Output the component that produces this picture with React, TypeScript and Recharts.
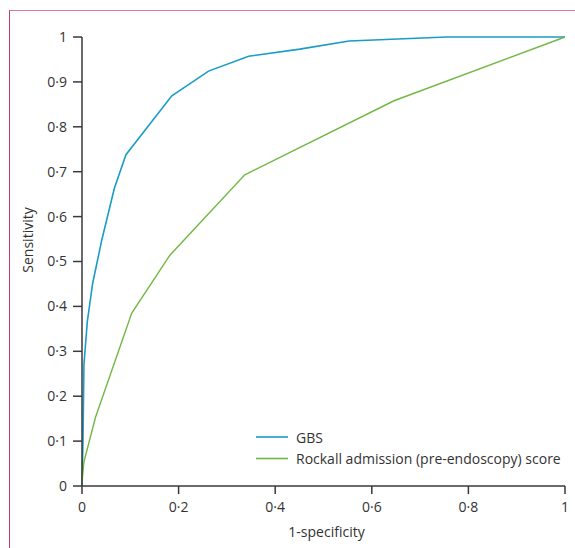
import React from 'react'
import {
  LineChart,
  Line,
  XAxis,
  YAxis,
  Legend,
} from 'recharts'

// ROC curves: [1-specificity, sensitivity]
const gbsFpr = [0, 0.002, 0.004, 0.011, 0.022, 0.041, 0.067, 0.091, 0.186, 0.262, 0.345, 0.451, 0.553, 0.755, 1]
const gbsTpr = [0, 0.1, 0.27, 0.366, 0.451, 0.548, 0.663, 0.738, 0.869, 0.924, 0.957, 0.973, 0.991, 1, 1]

const rockallFpr = [0, 0.001, 0.004, 0.028, 0.103, 0.182, 0.337, 0.646, 1]
const rockallTpr = [0, 0.02, 0.054, 0.153, 0.385, 0.514, 0.693, 0.858, 1]

const xTicks = [0, 0.2, 0.4, 0.6, 0.8, 1]
const yTicks = [0, 0.1, 0.2, 0.3, 0.4, 0.5, 0.6, 0.7, 0.8, 0.9, 1]

const seriesNames = ['GBS', 'Rockall admission (pre-endoscopy) score']
const BLUE = '#1a9cc6'
const GREEN = '#71b843'
const AXIS = '#3a3a3a'
const FONT = '"Open Sans", "Noto Sans", sans-serif'

const gbs = gbsFpr.map((x, i) => ({ x, y: gbsTpr[i] }))
const rockall = rockallFpr.map((x, i) => ({ x, y: rockallTpr[i] }))

// "0.2" -> "0·2", as the journal prints it
const fmt = (v: number) => String(Math.round(v * 10) / 10).replace('.', '·')

function LegendBox({ payload }: any) {
  const items = payload && payload.length ? payload : seriesNames.map((n, i) => ({ value: n, color: i ? GREEN : BLUE }))
  return (
    <svg width={320} height={48} style={{ display: 'block' }}>
      {items.map((p: any, i: number) => (
        <g key={p.value}>
          <line x1={6} x2={38} y1={12 + i * 21.5} y2={12 + i * 21.5} stroke={p.color} strokeWidth={1.6} />
          <text x={46} y={17.5 + i * 21.5} fontSize={14} fill="#333" fontFamily={FONT}>
            {p.value}
          </text>
        </g>
      ))}
    </svg>
  )
}

export default function App() {
  return (
    <div style={{ position: 'absolute', left: 0, top: 0, width: 575, height: 548, background: '#fff' }}>
      <div
        style={{
          position: 'absolute',
          left: 9,
          top: 10,
          right: 0,
          bottom: 0,
          borderTop: '1.5px solid #d97b92',
          borderLeft: '1.5px solid #c23a66',
        }}
      />
      <LineChart
        width={575}
        height={548}
        margin={{ top: 37, right: 10, bottom: 32, left: 0 }}
        style={{ fontFamily: FONT }}
      >
        <XAxis
          type="number"
          dataKey="x"
          domain={[0, 1]}
          ticks={xTicks}
          tickFormatter={fmt}
          height={30}
          stroke={AXIS}
          strokeWidth={1.5}
          tickSize={8}
          tickMargin={8}
          tick={{ fill: '#333', fontSize: 14 }}
          label={{
            content: ({ viewBox }: any) => (
              <text x={viewBox.x + viewBox.width / 2 + 3} y={537} textAnchor="middle" fontSize={14} fill="#333" fontFamily={FONT}>
                1-specificity
              </text>
            ),
          }}
        />
        <YAxis
          type="number"
          dataKey="y"
          domain={[0, 1]}
          ticks={yTicks}
          tickFormatter={fmt}
          width={82}
          stroke={AXIS}
          strokeWidth={1.5}
          tickSize={9}
          tickMargin={6}
          tick={{ fill: '#333', fontSize: 14 }}
          label={{
            content: () => (
              <text x={0} y={0} transform="translate(33,240) rotate(-90)" textAnchor="middle" fontSize={14} fill="#333" fontFamily={FONT}>
                Sensitivity
              </text>
            ),
          }}
        />
        <Legend
          content={<LegendBox />}
          wrapperStyle={{ position: 'absolute', left: 250, top: 425, width: 320, height: 0, overflow: 'visible' }}
        />
        <Line
          data={gbs}
          dataKey="y"
          name={seriesNames[0]}
          stroke={BLUE}
          strokeWidth={1.6}
          dot={false}
          isAnimationActive={false}
        />
        <Line
          data={rockall}
          dataKey="y"
          name={seriesNames[1]}
          stroke={GREEN}
          strokeWidth={1.4}
          dot={false}
          isAnimationActive={false}
        />
      </LineChart>
    </div>
  )
}
